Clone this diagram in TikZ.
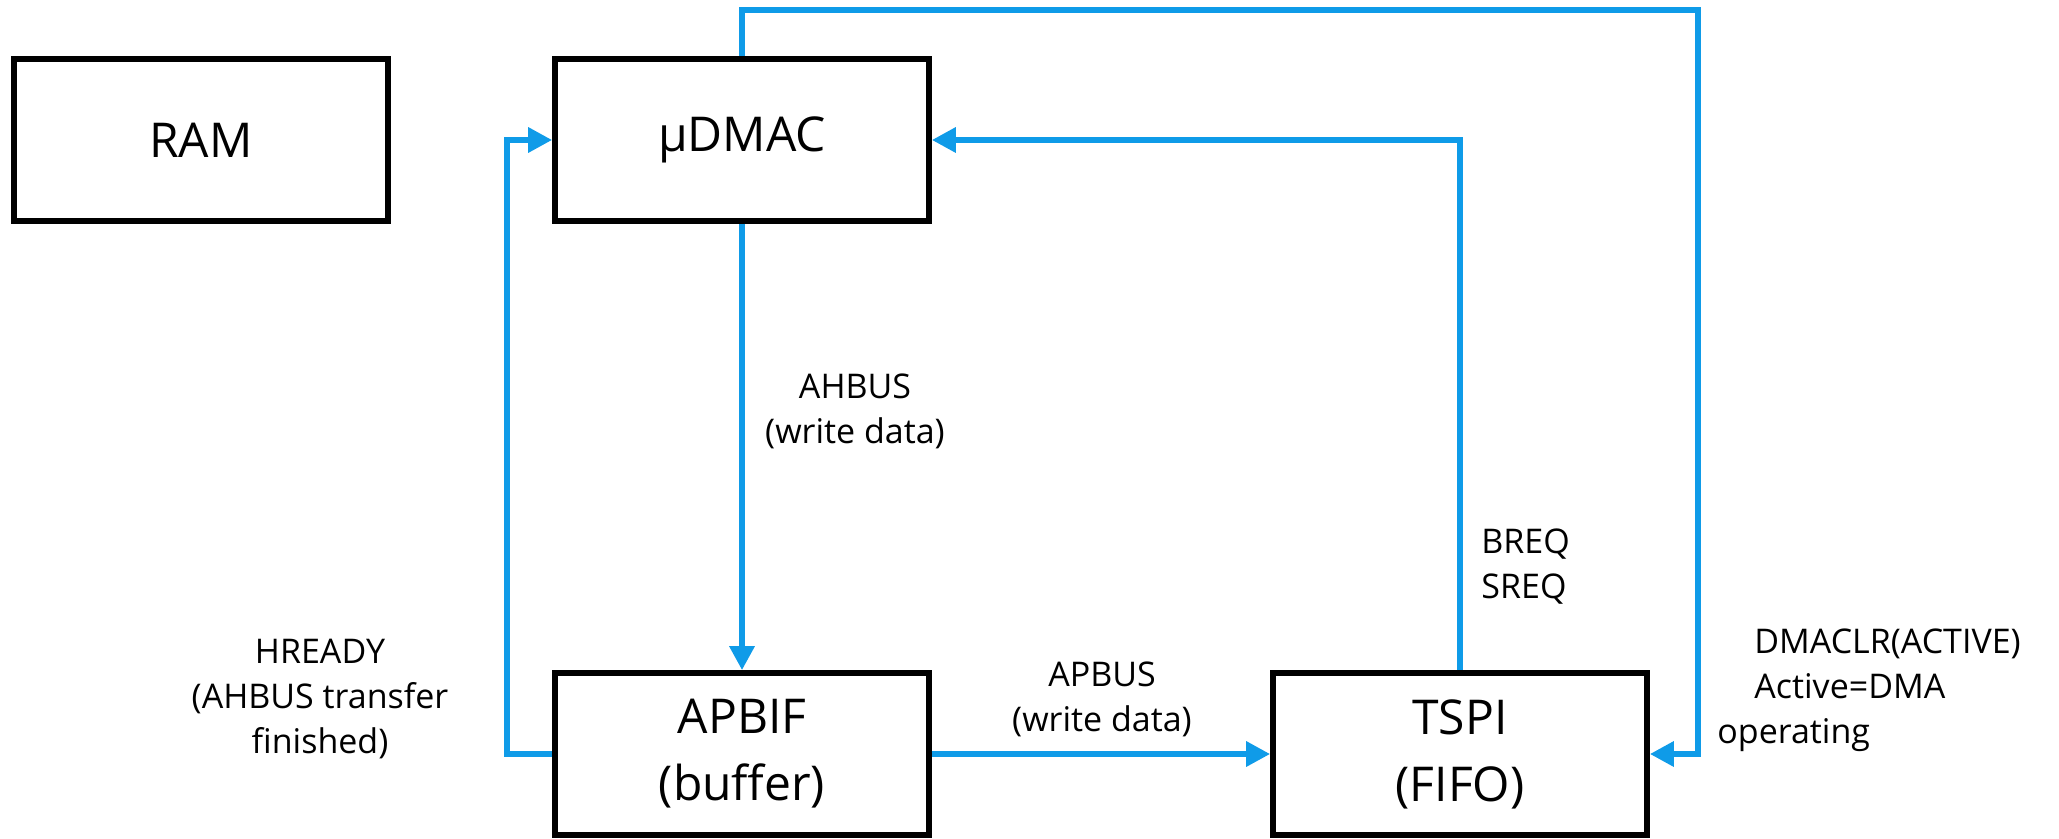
\documentclass[tikz,border=0pt]{standalone}
\usepackage{fontspec}
\setmainfont{Open Sans}
\usetikzlibrary{arrows.meta}

\definecolor{busblue}{HTML}{0F9BE8}

\begin{document}
\begin{tikzpicture}[
    x=0.5pt, y=-0.5pt,
    block/.style={
      rectangle, draw, line width=2.8pt,
      minimum width=187pt, minimum height=81pt,
      font=\fontsize{24}{33.5}\selectfont, align=center
    },
    link/.style={
      draw=busblue, line width=3.3pt,
      -{Triangle[length=12pt,width=12pt]}
    },
    lbl/.style={
      font=\fontsize{17}{22.5}\selectfont, align=center, inner sep=0pt
    }
    ]
  \useasboundingbox (0,0) rectangle (2059,839);

  % blocks
  \node[block] (ram)   at (201,140) {RAM};
  \node[block] (dmac)  at (742,140) {µDMAC};
  \node[block] (apbif) at (742,754) {APBIF\\(buffer)};
  \node[block] (tspi)  at (1460,754) {TSPI\\(FIFO)};

  % buses and handshake lines
  \coordinate (loopl) at (507,754);
  \coordinate (loopr) at (1698,10);
  \draw[link] (dmac.south) -- (apbif.north);
  \draw[link] (apbif.east) -- (tspi.west);
  \draw[link] (apbif.west) -- (loopl) |- (dmac.west);
  \draw[link] (tspi.north) |- (dmac.east);
  \draw[link] (dmac.north) |- (loopr) |- (tspi.east);

  % signal names
  \node[lbl] (ahb)   at (855,411)  {AHBUS\\(write data)};
  \node[lbl] (hrdy)  at (320,699)  {HREADY\\(AHBUS transfer\\finished)};
  \node[lbl] (apb)   at (1102,699) {APBUS\\(write data)};
  \node[lbl, anchor=west, align=left] (breq) at (1481,567) {BREQ\\SREQ};
  \node[lbl, anchor=west, align=left] (clr)  at (1717,690)
    {\hspace*{18.5pt}DMACLR(ACTIVE)\\\hspace*{18.5pt}Active=DMA\\operating};
\end{tikzpicture}
\end{document}
